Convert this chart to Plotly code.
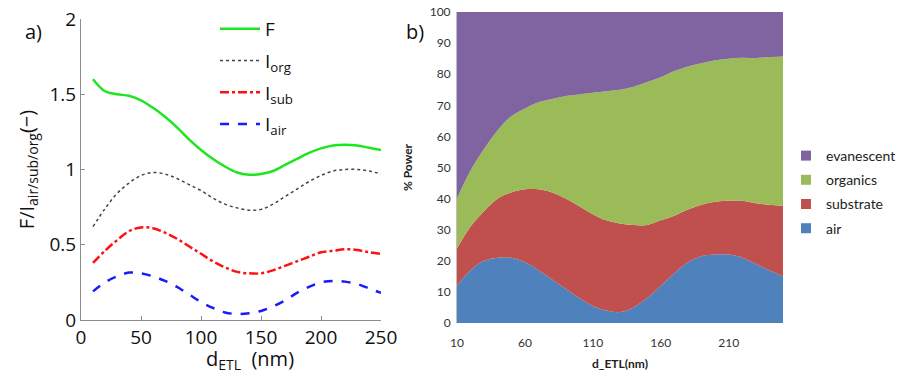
import plotly.graph_objects as go

# ---------- panel a) data ----------
d_a = [10, 20, 30, 40, 50, 60, 70, 80, 90, 100, 110, 120, 130, 140, 150, 160, 170, 180, 190, 200, 210, 220, 230, 240, 250]
F = [1.60, 1.52, 1.50, 1.49, 1.46, 1.41, 1.35, 1.28, 1.20, 1.13, 1.07, 1.02, 0.98, 0.965, 0.97, 0.99, 1.03, 1.07, 1.11, 1.14, 1.16, 1.165, 1.16, 1.145, 1.13]
I_org = [0.62, 0.74, 0.84, 0.91, 0.96, 0.98, 0.97, 0.94, 0.90, 0.86, 0.81, 0.77, 0.745, 0.73, 0.735, 0.77, 0.82, 0.87, 0.92, 0.96, 0.99, 1.00, 1.00, 0.99, 0.97]
I_sub = [0.38, 0.46, 0.53, 0.59, 0.615, 0.61, 0.58, 0.54, 0.49, 0.44, 0.39, 0.35, 0.32, 0.31, 0.31, 0.33, 0.36, 0.39, 0.42, 0.45, 0.46, 0.47, 0.465, 0.45, 0.44]
I_air = [0.19, 0.25, 0.29, 0.315, 0.31, 0.29, 0.26, 0.22, 0.17, 0.12, 0.08, 0.05, 0.04, 0.045, 0.06, 0.09, 0.13, 0.18, 0.22, 0.25, 0.26, 0.255, 0.24, 0.21, 0.18]
ticks_a_x = [0, 50, 100, 150, 200, 250]
ticks_a_y = [0, 0.5, 1, 1.5, 2]
ticklabels_a_y = ["0", "0.5", "1", "1.5", "2"]

# ---------- panel b) data (% power per channel) ----------
d_b = [10, 20, 30, 40, 50, 60, 70, 80, 90, 100, 110, 120, 130, 140, 150, 160, 170, 180, 190, 200, 210, 220, 230, 240, 250]
air = [12, 17, 20, 21, 21, 19.5, 17, 14, 11, 8, 5.5, 4, 3.5, 5, 8, 12, 16, 19.5, 21.5, 22, 22, 21, 19, 17, 15]
substrate = [12, 14, 16, 19, 21, 23.5, 26, 28, 29, 29.5, 29.5, 29, 28.5, 26.5, 23.5, 21, 18.5, 17, 16.5, 17, 17.3, 18.3, 19.5, 21, 22.7]
organics = [16, 18, 20, 22, 24.5, 26, 28, 30, 33, 36, 39, 41.5, 43, 44.5, 46, 46, 46.5, 46, 45.5, 45.5, 45.7, 46, 46.7, 47.5, 48]
evanescent = [60, 51, 44, 38, 33.5, 31, 29, 28, 27, 26.5, 26, 25.5, 25, 24, 22.5, 21, 19, 17.5, 16.5, 15.5, 15, 14.7, 14.8, 14.5, 14.3]
ticks_b_x = [10, 60, 110, 160, 210]
ticks_b_y = [0, 10, 20, 30, 40, 50, 60, 70, 80, 90, 100]

FONT_A = "Open Sans"
FONT_B = "Lato"
W, H = 906, 375
OFF = 8  # page body margin offset


def px_x(p):
    return (p - OFF) / W


def px_y(p):
    return 1 - (p - OFF) / H


fig = go.Figure()

# panel a traces
fig.add_trace(go.Scatter(x=d_a, y=F, name="F", mode="lines", line=dict(color="#1ee61e", width=2.5, shape="spline"),
                         xaxis="x", yaxis="y", legend="legend", legendgroup="a1"))
fig.add_trace(go.Scatter(x=d_a, y=I_org, name="I<sub>org</sub>", mode="lines", line=dict(color="#444444", width=1.5, dash="dot", shape="spline"),
                         xaxis="x", yaxis="y", legend="legend", legendgroup="a2"))
fig.add_trace(go.Scatter(x=d_a, y=I_sub, name="I<sub>sub</sub>", mode="lines", line=dict(color="#ff1010", width=2.5, dash="dashdot", shape="spline"),
                         xaxis="x", yaxis="y", legend="legend", legendgroup="a3"))
fig.add_trace(go.Scatter(x=d_a, y=I_air, name="I<sub>air</sub>", mode="lines", line=dict(color="#1a1aff", width=2.5, dash="dash", shape="spline"),
                         xaxis="x", yaxis="y", legend="legend", legendgroup="a4"))

# panel b traces (stacked areas) + square legend markers
series_b = [("air", air, "#4F81BD", 4), ("substrate", substrate, "#C0504D", 3),
            ("organics", organics, "#9BBB59", 2), ("evanescent", evanescent, "#8064A2", 1)]
for name, vals, col, rank in series_b:
    fig.add_trace(go.Scatter(x=d_b, y=vals, name=name, mode="none", stackgroup="b", fillcolor=col,
                             line=dict(shape="spline", width=0), xaxis="x2", yaxis="y2", showlegend=False))
for name, vals, col, rank in series_b:
    fig.add_trace(go.Scatter(x=[None], y=[None], name=name, mode="markers",
                             marker=dict(symbol="square", size=10, color=col),
                             xaxis="x2", yaxis="y2", legend="legend2", legendrank=rank,
                             legendgroup="b_" + name))

axis_a = dict(showline=True, linecolor="#8c8c8c", linewidth=1, ticks="inside", ticklen=4, tickcolor="#8c8c8c",
              showgrid=False, zeroline=False, automargin=False, ticklabeloverflow="allow",
              tickfont=dict(family=FONT_A, size=19, color="#111"))

fig.update_layout(
    width=W, height=H,
    margin=dict(l=0, r=0, t=0, b=0, autoexpand=False),
    paper_bgcolor="white", plot_bgcolor="white",
    xaxis=dict(domain=[px_x(81), px_x(381)], range=[0, 250], tickvals=ticks_a_x, anchor="y", **axis_a),
    yaxis=dict(domain=[px_y(320), px_y(19)], range=[0, 2], tickvals=ticks_a_y, ticktext=ticklabels_a_y, anchor="x",
               title=dict(text="F/I<sub>air/sub/org</sub>(−)", font=dict(family=FONT_A, size=20, color="#111"), standoff=9),
               **axis_a),
    xaxis2=dict(domain=[px_x(457), px_x(783)], range=[10, 250], tickvals=ticks_b_x, anchor="y2",
                showline=False, showgrid=False, zeroline=False, ticks="outside", ticklen=9,
                tickcolor="rgba(0,0,0,0)", automargin=False, ticklabeloverflow="allow",
                tickfont=dict(family=FONT_B, size=12, color="#333"),
                title=dict(text="<b>d_ETL(nm)</b>", font=dict(family=FONT_B, size=12, color="#222"), standoff=10)),
    yaxis2=dict(domain=[px_y(323), px_y(12)], range=[0, 100], tickvals=ticks_b_y, anchor="x2",
                showline=True, linecolor="#bfbfbf", showgrid=False, zeroline=False, ticks="outside", ticklen=3,
                tickcolor="rgba(0,0,0,0)", automargin=False, ticklabeloverflow="allow",
                tickfont=dict(family=FONT_B, size=12, color="#333"),
                title=dict(text="<b>% Power</b>", font=dict(family=FONT_B, size=12, color="#222"), standoff=14)),
    legend=dict(x=px_x(215), y=px_y(10), xanchor="left", yanchor="top", bgcolor="rgba(0,0,0,0)",
                font=dict(family=FONT_A, size=19, color="#111"), tracegroupgap=4, itemwidth=40),
    legend2=dict(x=px_x(786), y=px_y(140), xanchor="left", yanchor="top", bgcolor="rgba(0,0,0,0)",
                 traceorder="grouped", tracegroupgap=3,
                 font=dict(family=FONT_B, size=14, color="#222"), itemwidth=30),
    annotations=[
        dict(text="a)", x=px_x(33), y=px_y(31), xref="paper", yref="paper", showarrow=False,
             xanchor="center", yanchor="middle", font=dict(family=FONT_A, size=20, color="#111")),
        dict(text="b)", x=px_x(415), y=px_y(31), xref="paper", yref="paper", showarrow=False,
             xanchor="center", yanchor="middle", font=dict(family=FONT_A, size=20, color="#111")),
        dict(text="d<sub>ETL</sub>  (nm)", x=px_x(250), y=px_y(359), xref="paper", yref="paper",
             xanchor="center", yanchor="middle",
             showarrow=False, font=dict(family=FONT_A, size=20, color="#111")),
    ],
)

fig.write_html("out.html")
